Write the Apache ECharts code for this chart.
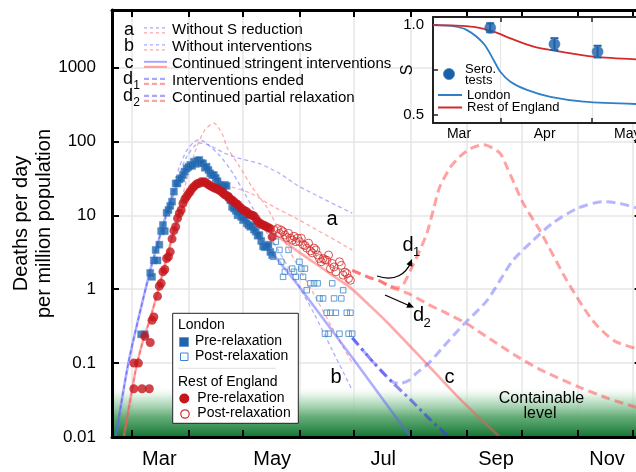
<!DOCTYPE html>
<html><head><meta charset="utf-8">
<script src="https://cdn.jsdelivr.net/npm/echarts@6/dist/echarts.min.js"></script>
<style>html,body{margin:0;padding:0;background:#fff}#c{width:636px;height:472px}</style>
</head><body><div id="c"></div>
<script>
// ---------- DATA (t = days since 1 March 2020) ----------
const monthStarts = [0,31,61,92,122,153,184,214,245,275];
const monthLabelDays = [15,77,138,200,261];
const monthLabels = ['Mar','May','Jul','Sep','Nov'];
const yTickLabels = ['0.01','0.1','1','10','100','1000'];

const insetTickDays = [31,61];
const insetLabelDays = [17.5,45.5,72.5];
const insetLabels = ['Mar','Apr','May'];
const insetSTicks = [0.5,0.75,1.0];
const insetSLabels = [0.5,1.0];

const londonPre = [[5,0.245],[7,0.245],[10,1.66],[11,1.47],[12,2.45],[13,3.4],[14,2.45],[15,4.0],[16,6.1],[17,7.4],[18,6.1],[19,10.8],[20,11.8],[21,13.4],[22,15.3],[23,20.9],[24,27],[25,27],[26,30.6],[27,31.7],[28,35],[29,39],[30,43],[31,45],[32,48],[33,46.6],[34,53],[35,49.6],[36,55],[37,56],[38,51],[39,50.5],[40,44],[41,45.5],[42,41],[43,37],[44,35],[45,35],[46,32],[47,29],[48,25.8],[49,25],[50,24],[51,25.8],[52,25],[53,17.5],[54,16],[55,13],[56,12.4],[57,11.5],[58,10],[59,11],[60,9.5],[61,8.6],[62,9.1],[63,7.8],[64,7.4],[65,7],[66,7.2],[67,6.4],[68,6],[69,5.3],[70,5.4],[71,4.5],[72,3.8],[73,3.7],[74,3.8],[75,4.0],[76,3.2],[77,2.9]];
const londonPost = [[77.5,2.75],[79,4.4],[81,3.4],[82,2.35],[83,1.47],[84,1.72],[86,3.4],[88,1.9],[89,1.72],[90,1.47],[92,2.35],[93,1.9],[94,1.47],[95,1.9],[96,0.97],[98,1.2],[100,1.2],[102,1.2],[103,0.75],[105,0.75],[106,0.25],[107,0.48],[108,0.25],[109,0.48],[110,1.2],[111,0.75],[112,0.48],[114,0.25],[115,0.75],[116,0.97],[118,0.48],[119,0.25],[120,0.48],[121,0.25]];
const restPre = [[1,0.1],[3.5,0.1],[1,0.045],[5.5,0.045],[9.5,0.045],[7,0.23],[10,0.19],[11,0.38],[12,0.42],[14,0.8],[15,1.1],[16,1.2],[17,1.72],[18,1.85],[19,2.6],[20,2.75],[21,3.2],[22,4.8],[23,6.2],[24,7.0],[25,9.1],[26,10.6],[27,11.8],[28,14.5],[29,16.5],[30,17.9],[31,19.5],[32,21],[33,23],[34,24.4],[35,25.8],[36,27],[37,27],[38,28.5],[39,28],[40,28.5],[41,27],[42,26],[43,25],[44,24.4],[45,23.5],[46,23.2],[47,22.5],[48,22],[49,21],[50,20],[51,18.9],[52,18.5],[53,17.9],[54,16.5],[55,16.1],[56,15.3],[57,14.5],[58,14],[59,13.1],[60,12.5],[61,11.8],[62,11.5],[63,11.2],[64,10.5],[65,10.2],[66,10],[67,9.8],[68,9],[69,8.3],[70,7.8],[71,7.6],[72,7.4],[73,7.2],[74,7.0],[75,6.8],[76,6.6],[77,5.1]];
const restPost = [[78,6.3],[80,6.6],[81,5.7],[82,6.3],[83,6.0],[84,5.4],[85,5.0],[86,5.7],[87,4.9],[88,4.6],[89,5.2],[90,4.4],[91,4.9],[92,4.4],[93,4.9],[94,4.0],[95,3.9],[96,3.6],[97,4.2],[98,3.3],[99,3.1],[100,3.6],[101,3.4],[102,2.9],[103,2.6],[104,2.35],[105,2.6],[106,2.5],[107,2.47],[108,2.9],[109,1.9],[110,2.23],[111,2.0],[112,1.72],[114,2.35],[115,2.1],[116,1.55],[117,1.7],[118,1.63],[119,1.4],[120,1.32]];

// model curves
const blueC = [[-9,0.01],[-2,0.1],[4,0.45],[10,1.8],[13,3.3],[16,6],[19,10.5],[22,17],[25,27],[28,37],[31,46],[34,52],[37,53],[40,48],[46,34],[52,21],[58,13],[64,8],[70,5],[80,2.5],[92,1.07],[122,0.11],[153,0.01],[160,0.006]];
const blueA = [[-9,0.01],[-2,0.1],[4,0.45],[10,1.8],[13,3.3],[16,6],[19,10.5],[22,18],[26,36],[30,62],[34,85],[37,95],[42,90],[51,69],[60,58],[70,50],[81,37],[92,24.5],[121,10.7]];
const blueB = [[-9,0.01],[-2,0.1],[4,0.45],[10,1.8],[13,3.3],[16,6],[19,10.5],[22,20],[26,45],[30,75],[34,98],[37,105],[40,98],[43,85],[48,65],[54,42],[60,24],[66,13],[72,7],[80,3.5],[90,1.3],[100,0.47],[110,0.15],[121,0.043]];
const blueD1 = [[121,0.22],[133,0.1],[143,0.056],[147,0.053],[152,0.058],[156,0.072],[163,0.1],[171,0.165],[182,0.33],[195,0.7],[209,2.4],[220,4.5],[231,7.8],[245,12.5],[259,15.3],[268,14.5],[280,12]];
const blueD2 = [[121,0.22],[133,0.1],[143,0.055],[153,0.032],[163,0.018],[174,0.01],[180,0.007]];
const redC = [[-4.5,0.01],[2,0.08],[6,0.2],[10,0.4],[14,0.9],[18,2.1],[22,5],[26,10],[32,20],[38,27],[44,26],[52,19],[60,13.5],[70,8],[80,5.2],[90,3.4],[100,2.3],[110,1.55],[120,1.05],[130,0.62],[140,0.36],[160,0.11],[180,0.033],[202,0.01],[210,0.0065]];
const redA = [[-4.5,0.01],[2,0.08],[6,0.2],[10,0.4],[14,0.9],[18,2.1],[22,5],[26,10],[30,18],[35,25],[40,29],[45,28],[55,24],[65,20],[78,13],[92,8.6],[121,3.4]];
const redB = [[-4.5,0.01],[2,0.08],[6,0.2],[10,0.4],[14,0.9],[18,2.1],[22,5],[26,12],[30,30],[35,77],[40,143],[45,177],[50,120],[52,85],[59,46],[66,24],[74,13],[82,5.5],[90,2.3],[100,0.85],[110,0.3],[121,0.1]];
const redD1 = [[121,1.8],[130,1.45],[136,1.3],[142,1.1],[146,1.05],[149,1.15],[153,1.8],[158,3.3],[162,5.7],[166,13],[169,24],[175,45],[180,62],[186,80],[193,90],[202,70],[206,45],[215,14.5],[224,6.3],[239,1.3],[253,0.38],[265,0.2],[280,0.15]];
const redD2 = [[121,1.8],[130,1.45],[136,1.3],[142,1.07],[152,0.87],[163,0.62],[173,0.47],[184,0.34],[197,0.21],[210,0.13],[225,0.08],[246,0.047],[262,0.033],[280,0.024]];
const containableBand = [0.01, 0.05];

// inset (S = susceptible fraction)
const sLondon = [[9,1.0],[15,0.995],[20.1,0.972],[25.5,0.898],[28.8,0.806],[31,0.74],[34.3,0.685],[39.7,0.639],[47.4,0.60],[58.2,0.574],[77,0.56]];
const sRest = [[9,1.0],[15,0.998],[22.3,0.99],[28.8,0.963],[34.3,0.926],[41.9,0.88],[50.6,0.852],[61.5,0.824],[77,0.808]];
const seroTests = [[27.7,0.985],[48.7,0.894],[62.8,0.852]];
const seroErr = [[27.7,0.96,1.01],[48.7,0.861,0.927],[62.8,0.82,0.885]];

// ---------- CHART ----------
const FONT = '"Liberation Sans", Arial, Helvetica, sans-serif';
const chart = echarts.init(document.getElementById('c'));

const BLUE_L = 'rgba(95,95,255,0.5)';
const RED_L = 'rgba(255,85,85,0.5)';
function mline(data, color, width, type, z) {
  return {type:'line', data, xAxisIndex:0, yAxisIndex:0, symbol:'none', showSymbol:false,
    smooth:0.25, silent:true, z: z || 3,
    lineStyle:{color, width, type}};
}
function head(x1,y1,x2,y2,len,wid){
  const dx=x2-x1, dy=y2-y1, L=Math.hypot(dx,dy), ux=dx/L, uy=dy/L;
  const bx=x2-ux*len, by=y2-uy*len;
  return [[x2,y2],[bx-uy*wid,by+ux*wid],[bx+uy*wid,by-ux*wid]];
}
function txt(x,y,text,size,align,extra){
  return Object.assign({type:'text', z:50, style:{x,y,text,fill:'#000',font:size+'px '+FONT,
    textAlign:align||'left', textVerticalAlign:'middle'}}, extra||{});
}
function seg(x1,y1,x2,y2,color,width,dash){
  return {type:'line', z:50, shape:{x1,y1,x2,y2}, style:{stroke:color,lineWidth:width,lineDash:dash||null}};
}

const legRows = [30,47,64,81,98];
const legTexts = ['Without S reduction','Without interventions','Continued stringent interventions','Interventions ended','Continued partial relaxation'];
const legDash = [[3,3],[3,3],null,[5,3],[5,3]];
const legW = [1.3,1.3,2,2.2,2.2];
const graphics = [];
legRows.forEach((y,i)=>{
  graphics.push(seg(144,y-2.2,167,y-2.2,'rgba(95,95,255,0.55)',legW[i],legDash[i]));
  graphics.push(seg(144,y+2.8,167,y+2.8,'rgba(255,85,85,0.55)',legW[i],legDash[i]));
  graphics.push(txt(172,y,legTexts[i],15));
});
graphics.push(txt(129,30,'a',18,'center'));
graphics.push(txt(129,46,'b',18,'center'));
graphics.push(txt(129,63,'c',18,'center'));
graphics.push(txt(128,79,'d',18,'center'));
graphics.push(txt(136.5,86,'1',12,'center'));
graphics.push(txt(128,96,'d',18,'center'));
graphics.push(txt(136.5,103,'2',12,'center'));

// bottom legend box
graphics.push({type:'rect', z:49, shape:{x:172.7,y:313.3,width:125.6,height:110}, style:{fill:'#fff',stroke:'#222',lineWidth:1}});
graphics.push(txt(178,325,'London',14));
graphics.push({type:'rect', z:50, shape:{x:179.5,y:337.5,width:9,height:9}, style:{fill:'#1f65ad',stroke:'#3b7fc4',lineWidth:0.5}});
graphics.push(txt(195,341,'Pre-relaxation',14));
graphics.push({type:'rect', z:50, shape:{x:180.5,y:353,width:7.5,height:7.5}, style:{fill:'#fff',stroke:'#3d86cc',lineWidth:1}});
graphics.push(txt(195,356.5,'Post-relaxation',14));
graphics.push(seg(178,368.3,276,368.3,'#e0e0e0',1));
graphics.push(txt(178,381.7,'Rest of England',14));
graphics.push({type:'circle', z:50, shape:{cx:184.3,cy:398.5,r:5}, style:{fill:'#c4161c'}});
graphics.push(txt(197.3,398,'Pre-relaxation',14));
graphics.push({type:'circle', z:50, shape:{cx:185,cy:414,r:4.2}, style:{fill:'#fff',stroke:'#d42a2a',lineWidth:1.2}});
graphics.push(txt(197.3,413.5,'Post-relaxation',14));

// curve labels
graphics.push(txt(332,219,'a',20,'center',{z:40}));
graphics.push(txt(336,377,'b',20,'center',{z:40}));
graphics.push(txt(449.5,377,'c',20,'center',{z:40}));
graphics.push(txt(408,245,'d',20,'center',{z:40}));
graphics.push(txt(416.5,252,'1',13,'center',{z:40}));
graphics.push(txt(418.5,315,'d',20,'center',{z:40}));
graphics.push(txt(427,323,'2',13,'center',{z:40}));
graphics.push(txt(541.5,399,'Containable',16,'center',{z:40}));
graphics.push(txt(540,414,'level',16,'center',{z:40}));
// arrows
graphics.push({type:'bezierCurve', z:40, shape:{x1:377,y1:276,cpx1:395,cpy1:282,cpx2:406,cpy2:274,x2:411,y2:262}, style:{stroke:'#000',lineWidth:1.3,fill:null}});
graphics.push({type:'polygon', z:40, shape:{points:head(406,274,412,259,7,3.2)}, style:{fill:'#000'}});
graphics.push(seg(385,295,410,306,'#000',1.3));
graphics.push({type:'polygon', z:40, shape:{points:head(385,295,414,307.5,7,3.2)}, style:{fill:'#000'}});

// inset legend
graphics.push({type:'circle', z:60, shape:{cx:449,cy:74,r:5.5}, style:{fill:'#1a5fa8',stroke:'#3f7fc0',lineWidth:0.8}});
graphics.push(txt(465,69,'Sero.',13,'left',{z:60}));
graphics.push(txt(465,80,'tests',13,'left',{z:60}));
graphics.push(Object.assign(seg(438,95,462,95,'#2f7fc8',2),{z:60}));
graphics.push(txt(467,95,'London',13,'left',{z:60}));
graphics.push(Object.assign(seg(438,107.5,462,107.5,'#d42a2a',2),{z:60}));
graphics.push(txt(467,107.5,'Rest of England',13,'left',{z:60}));

const frameLine = {onZero:false, lineStyle:{color:'#000',width:3}};
const option = {
  animation:false,
  backgroundColor:'#fff',
  textStyle:{fontFamily:FONT},
  grid:[
    {left:112, top:10, right:-5.6, bottom:35, outerBoundsMode:'none', containLabel:false},
    {left:433, top:17, right:-5, bottom:349, show:true, backgroundColor:'#fff', borderWidth:0, z:20, outerBoundsMode:'none', containLabel:false}
  ],
  xAxis:[
    {gridIndex:0, type:'value', position:'bottom', min:-11, max:280, z:10,
      axisLine:frameLine,
      axisTick:{inside:true, length:7, lineStyle:{color:'#000',width:2}, customValues:monthStarts},
      axisLabel:{customValues:monthLabelDays, formatter:v=>{const i=monthLabelDays.indexOf(v);return i>=0?monthLabels[i]:'';}, fontSize:20, color:'#000', margin:12, fontFamily:FONT},
      splitLine:{show:false}},
    {gridIndex:0, type:'value', position:'top', min:-11, max:280, z:10,
      axisLine:frameLine,
      axisTick:{inside:true, length:7, lineStyle:{color:'#000',width:2}, customValues:monthStarts},
      axisLabel:{show:false}, splitLine:{show:false}},
    {gridIndex:0, type:'value', position:'bottom', min:-11, max:280, z:0,
      axisLine:{show:false, onZero:false}, axisTick:{show:false, customValues:monthStarts}, axisLabel:{show:false},
      splitLine:{show:true, lineStyle:{color:'#e6e6e6', width:1.5}}},
    {gridIndex:1, type:'value', position:'bottom', min:9, max:77, z:21,
      axisLine:{onZero:false, lineStyle:{color:'#222',width:2}},
      axisTick:{inside:true, length:5, lineStyle:{color:'#222',width:1.5}, customValues:insetTickDays},
      axisLabel:{customValues:insetLabelDays, formatter:v=>{const i=insetLabelDays.indexOf(v);return i>=0?insetLabels[i]:'';}, fontSize:14, color:'#000', margin:4, fontFamily:FONT},
      splitLine:{show:true, lineStyle:{color:'#e6e6e6', width:1.2}}},
    {gridIndex:1, type:'value', position:'top', min:9, max:77, z:21,
      axisLine:{onZero:false, lineStyle:{color:'#222',width:2}},
      axisTick:{inside:true, length:5, lineStyle:{color:'#222',width:1.5}, customValues:insetTickDays},
      axisLabel:{show:false}, splitLine:{show:false}}
  ],
  yAxis:[
    {gridIndex:0, type:'log', logBase:10, min:0.01, max:6000, position:'left', z:10,
      name:'Deaths per day\nper million population', nameLocation:'middle', nameRotate:90, nameGap:56, nameMoveOverlap:false,
      nameTextStyle:{fontSize:20, lineHeight:23, color:'#000', fontFamily:FONT},
      axisLine:frameLine,
      axisTick:{inside:true, length:7, lineStyle:{color:'#000',width:2}},
      axisLabel:{fontSize:17, color:'#000', margin:16, fontFamily:FONT, showMaxLabel:false,
        formatter:v=>{const e=Math.log10(v);const r=Math.round(e);return (Math.abs(e-r)<1e-6 && r>=-2 && r<=3)?yTickLabels[r+2]:'';}},
      splitLine:{show:false}},
    {gridIndex:0, type:'log', logBase:10, min:0.01, max:6000, position:'right', z:10,
      axisLine:frameLine,
      axisTick:{inside:true, length:7, lineStyle:{color:'#000',width:2}},
      axisLabel:{show:false}, splitLine:{show:false}},
    {gridIndex:0, type:'log', logBase:10, min:0.01, max:6000, position:'left', z:0,
      axisLine:{show:false, onZero:false}, axisTick:{show:false}, axisLabel:{show:false},
      splitLine:{show:true, lineStyle:{color:'#e6e6e6', width:1.5}}},
    {gridIndex:1, type:'value', min:0.455, max:1.045, position:'left', z:21,
      name:'S', nameLocation:'middle', nameRotate:90, nameGap:17, nameMoveOverlap:false,
      nameTextStyle:{fontSize:16, color:'#000', fontFamily:FONT},
      axisLine:{onZero:false, lineStyle:{color:'#222',width:2}},
      axisTick:{inside:true, length:5, lineStyle:{color:'#222',width:1.5}, customValues:insetSTicks},
      axisLabel:{customValues:insetSLabels, formatter:v=>v.toFixed(1), fontSize:15, color:'#000', margin:9, fontFamily:FONT},
      splitLine:{show:false}},
    {gridIndex:1, type:'value', min:0.455, max:1.045, position:'right', z:21,
      axisLine:{onZero:false, lineStyle:{color:'#222',width:2}}, axisTick:{show:false}, axisLabel:{show:false}, splitLine:{show:false}}
  ],
  series:[
    {type:'line', xAxisIndex:0, yAxisIndex:0, data:[[-11,0.01]], symbol:'none', lineStyle:{opacity:0}, z:1, silent:true,
      markArea:{silent:true, itemStyle:{color:new echarts.graphic.LinearGradient(0,0,0,1,[
        {offset:0,color:'rgba(255,255,255,0)'},{offset:0.25,color:'rgba(190,225,198,0.7)'},
        {offset:0.6,color:'rgba(95,170,115,0.95)'},{offset:1,color:'#137735'}])},
        data:[[{xAxis:-11,yAxis:containableBand[0]},{xAxis:280,yAxis:containableBand[1]}]]}},
    mline(blueA,'rgba(95,95,255,0.5)',1.3,[4,3]),
    mline(blueB,'rgba(95,95,255,0.5)',1.3,[4,3]),
    mline(redA,'rgba(255,90,90,0.5)',1.3,[4,3]),
    mline(redB,'rgba(255,90,90,0.5)',1.3,[4,3]),
    mline(blueC,BLUE_L,2.6,'solid'),
    mline(redC,RED_L,2.6,'solid'),
    mline(redD2,'rgba(255,85,85,0.55)',3,[9,5]),
    mline(redD1,'rgba(255,85,85,0.55)',3,[9,5]),
    mline(blueD1,'rgba(110,110,255,0.5)',3,[9,5]),
    mline(blueD2,'rgba(60,60,235,0.6)',3,[10,4,3,4]),
    {type:'scatter', name:'London pre', xAxisIndex:0, yAxisIndex:0, data:londonPre, symbol:'rect', symbolSize:7, z:6, silent:true,
      itemStyle:{color:'#1f65ad', borderColor:'#3b7fc4', borderWidth:0.5}},
    {type:'scatter', name:'London post', xAxisIndex:0, yAxisIndex:0, data:londonPost, symbol:'rect', symbolSize:5.5, z:6, silent:true,
      itemStyle:{color:'rgba(255,255,255,0)', borderColor:'#3d86cc', borderWidth:1}},
    {type:'scatter', name:'Rest pre', xAxisIndex:0, yAxisIndex:0, data:restPre, symbol:'circle', symbolSize:9, z:6, silent:true,
      itemStyle:{color:'#c4161c'}},
    {type:'scatter', name:'Rest post', xAxisIndex:0, yAxisIndex:0, data:restPost, symbol:'circle', symbolSize:8, z:6, silent:true,
      itemStyle:{color:'rgba(255,255,255,0)', borderColor:'#d42a2a', borderWidth:1}},
    // inset
    {type:'line', xAxisIndex:3, yAxisIndex:3, data:sLondon, symbol:'none', smooth:0.3, z:22, silent:true,
      lineStyle:{color:'#2f7fc8', width:1.8}},
    {type:'line', xAxisIndex:3, yAxisIndex:3, data:sRest, symbol:'none', smooth:0.3, z:22, silent:true,
      lineStyle:{color:'#d42a2a', width:1.8}},
    {type:'custom', xAxisIndex:3, yAxisIndex:3, data:seroErr, z:23, silent:true,
      renderItem:(params,api)=>{
        const x=api.value(0), p1=api.coord([x,api.value(1)]), p2=api.coord([x,api.value(2)]);
        const st={stroke:'#1a5fa8', lineWidth:2};
        return {type:'group', children:[
          {type:'line', shape:{x1:p1[0],y1:p1[1],x2:p2[0],y2:p2[1]}, style:st},
          {type:'line', shape:{x1:p1[0]-4,y1:p1[1],x2:p1[0]+4,y2:p1[1]}, style:st},
          {type:'line', shape:{x1:p2[0]-4,y1:p2[1],x2:p2[0]+4,y2:p2[1]}, style:st}]};
      }},
    {type:'scatter', xAxisIndex:3, yAxisIndex:3, data:seroTests, symbol:'circle', symbolSize:11, z:24, silent:true,
      itemStyle:{color:'#1a5fa8', borderColor:'#3f7fc0', borderWidth:0.8}}
  ],
  graphic:graphics
};
chart.setOption(option);
</script>
</body></html>
